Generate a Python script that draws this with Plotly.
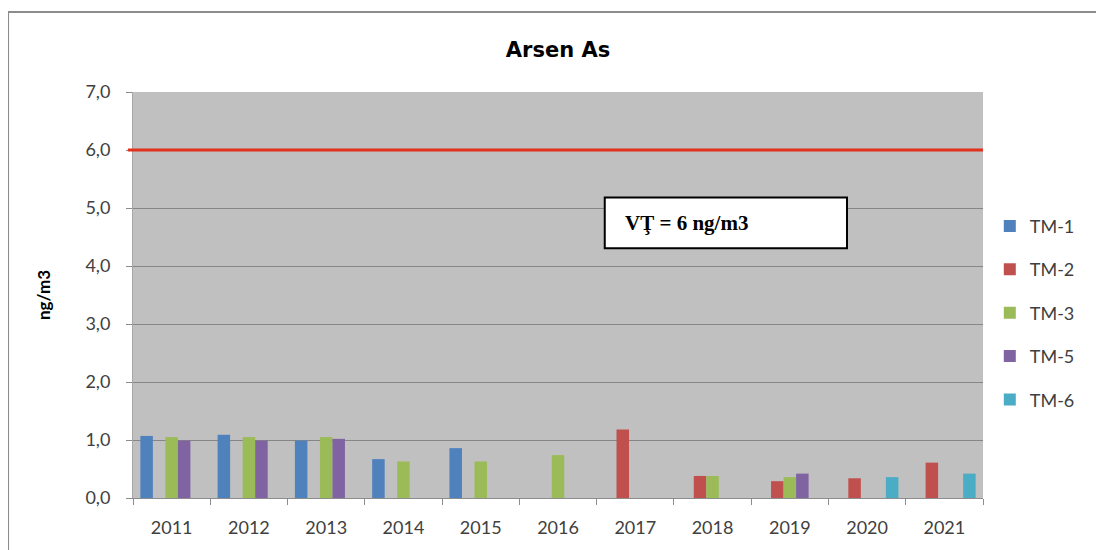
import plotly.graph_objects as go

years = ["2011", "2012", "2013", "2014", "2015", "2016",
         "2017", "2018", "2019", "2020", "2021"]
tm1 = [1.07, 1.09, 0.99, 0.67, 0.86, None, None, None, None, None, None]
tm2 = [None, None, None, None, None, None, 1.18, 0.38, 0.29, 0.34, 0.61]
tm3 = [1.05, 1.05, 1.05, 0.63, 0.63, 0.74, None, 0.38, 0.36, None, None]
tm5 = [0.99, 0.99, 1.02, None, None, None, None, None, 0.42, None, None]
tm6 = [None, None, None, None, None, None, None, None, None, 0.36, 0.42]
limit_value = 6.0

series = [
    ("TM-1", tm1, "#4F81BD"),
    ("TM-2", tm2, "#C0504D"),
    ("TM-3", tm3, "#9BBB59"),
    ("TM-5", tm5, "#8064A2"),
    ("TM-6", tm6, "#4BACC6"),
]

fig = go.Figure()
for name, vals, color in series:
    fig.add_trace(go.Bar(x=years, y=vals, name=name, marker_color=color,
                         marker_line_width=0, legendgroup=name))

# limit line (VT = 6 ng/m3)
fig.add_shape(type="line", xref="paper", yref="y", x0=-0.006, x1=1,
              y0=limit_value, y1=limit_value,
              line=dict(color="#E2311D", width=3), layer="above")

# label box
fig.add_shape(type="rect", xref="paper", yref="paper",
              x0=0.555, x1=0.84, y0=0.615, y1=0.74,
              fillcolor="white", line=dict(color="black", width=2), layer="above")
fig.add_annotation(text="<b>VŢ = 6 ng/m3</b>", xref="paper", yref="paper",
                   x=0.576, y=0.677, xanchor="left", yanchor="middle",
                   showarrow=False,
                   font=dict(family="Liberation Serif", size=21, color="black"))

# outer chart border (cropped on right and bottom)
fig.add_shape(type="rect", xref="paper", yref="paper",
              x0=-0.147, x1=1.2, y0=-0.2, y1=1.197,
              line=dict(color="#8C8C8C", width=2), layer="below")

fig.update_layout(
    width=1104, height=550,
    margin=dict(l=125, r=129, t=84, b=60),
    paper_bgcolor="white", plot_bgcolor="#C0C0C0",
    title=dict(text="<b>Arsen As</b>", x=0.5, xref="paper", y=0.925, yanchor="middle",
               font=dict(family="DejaVu Sans", size=21, color="black")),
    barmode="group", bargap=0.19, bargroupgap=0,
    separators=", ",
    font=dict(family="Lato", size=18, color="#404040"),
    legend=dict(x=1.008, xanchor="left", y=0.715, yanchor="top",
                tracegroupgap=17, font=dict(size=18, color="#404040"),
                bgcolor="rgba(0,0,0,0)"),
    showlegend=True,
)
fig.update_xaxes(type="category", showline=True, linecolor="#8C8C8C", linewidth=1,
                 ticks="outside", tickson="boundaries", ticklen=6, tickcolor="#8C8C8C",
                 showgrid=False, ticklabelstandoff=13,
                 tickfont=dict(size=18, color="#404040"))
fig.update_yaxes(range=[0, 7], dtick=1, tickformat=".1f",
                 showgrid=True, gridcolor="#868686", gridwidth=1,
                 showline=True, linecolor="#A6A6A6", linewidth=1,
                 ticks="outside", ticklen=6, tickcolor="#8C8C8C",
                 zeroline=False, ticklabelstandoff=12,
                 tickfont=dict(size=18, color="#404040"),
                 title=dict(text="<b>ng/m3</b>", standoff=30,
                            font=dict(family="Lato", size=17, color="black")))

fig.write_html("out.html")
